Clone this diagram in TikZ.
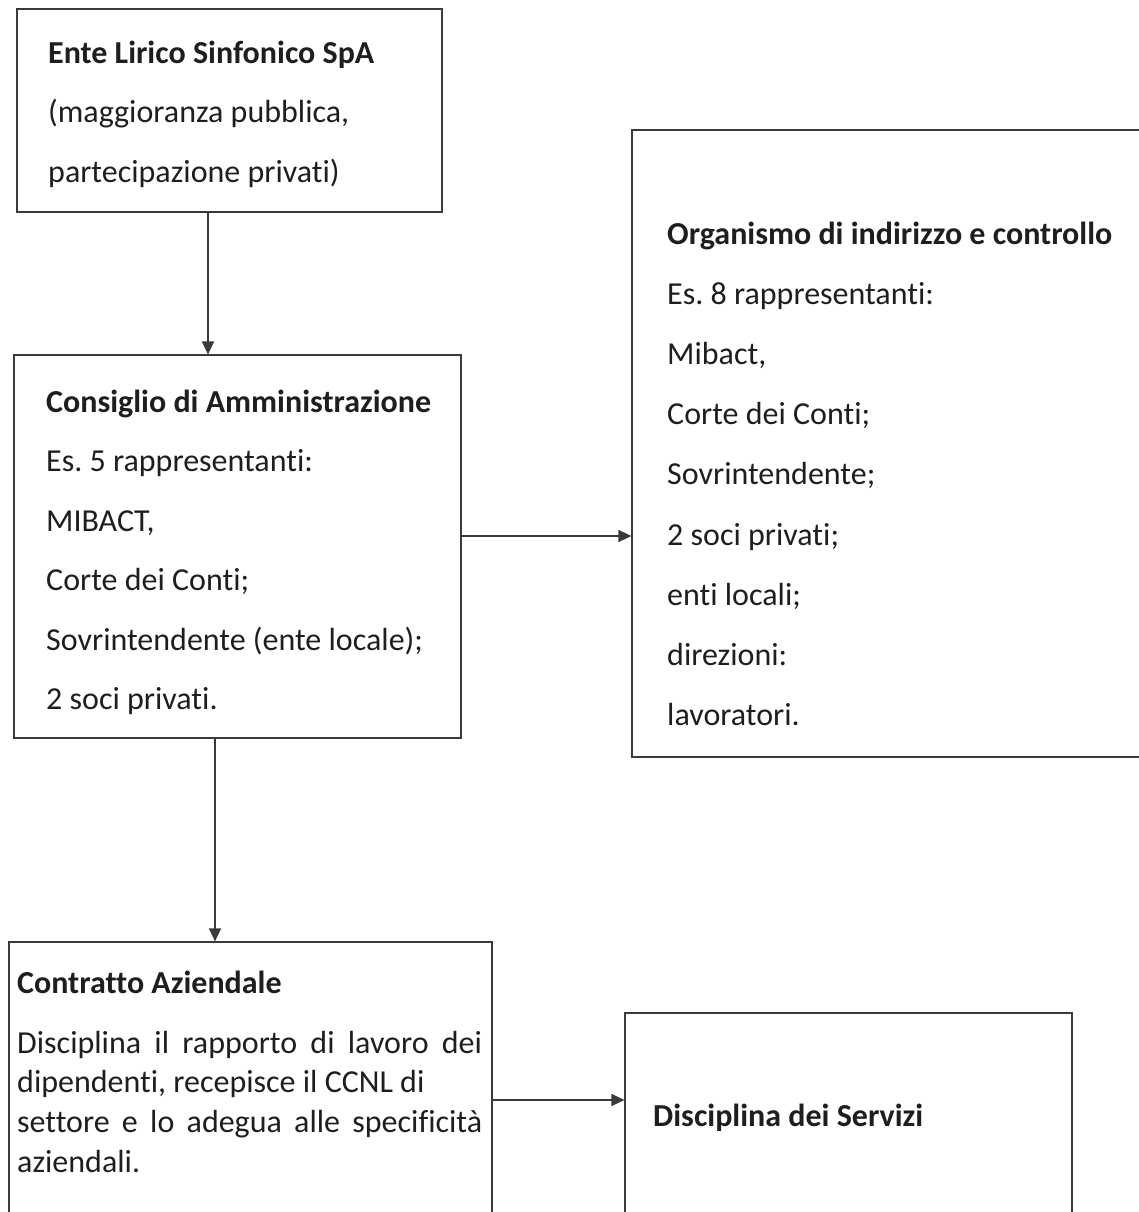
\documentclass[tikz,border=0pt]{standalone}
\usepackage{fontspec}
\setmainfont{Carlito}[Ligatures=NoCommon]
\frenchspacing
\usetikzlibrary{arrows.meta,positioning}
\definecolor{linec}{HTML}{3a3a3a}
\definecolor{textc}{HTML}{1e1e1e}

\begin{document}
\begin{tikzpicture}[x=1pt,y=-1pt,
box/.style={draw=linec, line width=1.2pt, inner sep=0pt},
txt/.style={align=left, inner sep=0pt, anchor=base west, text=textc, font=\fontsize{32}{59.5}\selectfont},
arr/.style={-{Triangle[length=13pt,width=12pt]}, draw=linec, line width=1.3pt}
]
\useasboundingbox (0,0) rectangle (1138,1212);

\node[box, minimum width=425pt, minimum height=203pt] (ente) at (229.5,110.5) {};
\node[box, minimum width=447pt, minimum height=383pt] (cda) at (237.5,546.5) {};
\node[box, minimum width=528pt, minimum height=627pt] (org) at (896,443.5) {};
\node[box, minimum width=483pt, minimum height=290pt] (contratto) at (250.5,1087) {};
\node[box, minimum width=447pt, minimum height=219pt] (servizi) at (848.5,1122.5) {};

% the base anchor is the baseline of the last line
\node[txt] (ente-txt) at (48,182) {\textbf{Ente Lirico Sinfonico SpA}\\(maggioranza pubblica,\\partecipazione privati)};
\node[txt] (cda-txt) at (46,709.5) {\textbf{Consiglio di Amministrazione}\\Es. 5 rappresentanti:\\MIBACT,\\Corte dei Conti;\\Sovrintendente (ente locale);\\2 soci privati.};
\node[txt, font=\fontsize{32}{60.2}\selectfont] (org-txt) at (667,725.6) {\textbf{Organismo di indirizzo e controllo}\\Es. 8 rappresentanti:\\Mibact,\\Corte dei Conti;\\Sovrintendente;\\2 soci privati;\\enti locali;\\direzioni:\\lavoratori.};
\node[txt, font=\fontsize{32}{39.7}\selectfont] (contratto-txt) at (17,1172.1) {\textbf{Contratto Aziendale}\\[20.3pt]\makebox[465pt][s]{Disciplina il rapporto di lavoro dei}\\dipendenti, recepisce il CCNL di\\\makebox[465pt][s]{settore e lo adegua alle specificità}\\aziendali.};
\node[txt] (servizi-txt) at (653,1126) {\textbf{Disciplina dei Servizi}};

\draw[arr] ([xshift=-21.5pt]ente.south) -- ([xshift=-21.5pt]ente.south |- cda.north);
\draw[arr] ([yshift=10.5pt]cda.east) -- ([yshift=10.5pt]cda.east -| org.west);
\draw[arr] ([xshift=-22.5pt]cda.south) -- ([xshift=-22.5pt]cda.south |- contratto.north);
\draw[arr] ([yshift=-13pt]contratto.east) -- ([yshift=-13pt]contratto.east -| servizi.west);
\end{tikzpicture}
\end{document}
